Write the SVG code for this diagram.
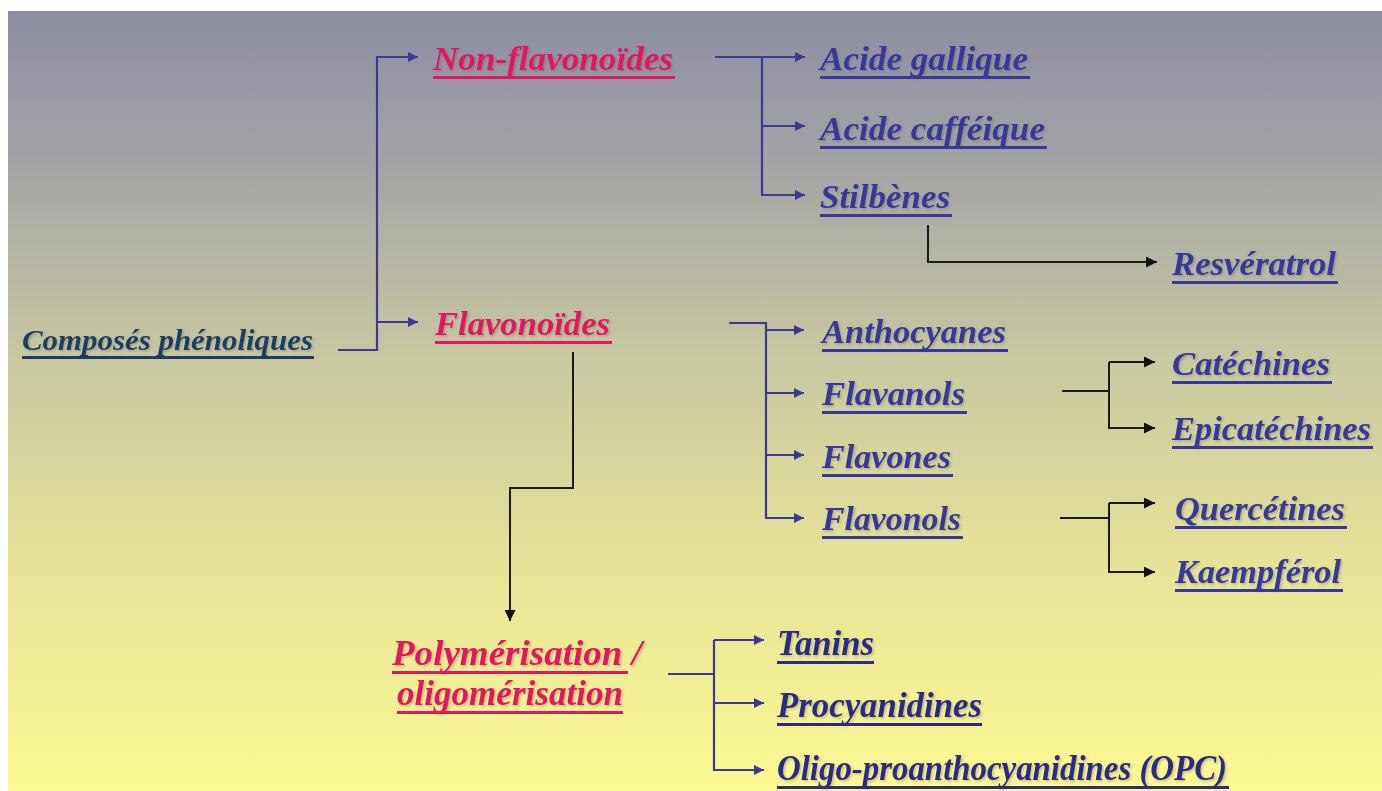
<svg xmlns="http://www.w3.org/2000/svg" width="1382" height="791" viewBox="0 0 1382 791">
<defs>
<linearGradient id="bg" x1="0" y1="0" x2="0" y2="1">
<stop offset="0" stop-color="#8d8da4"/>
<stop offset="0.18" stop-color="#a2a2a6"/>
<stop offset="0.45" stop-color="#c9c9a2"/>
<stop offset="0.72" stop-color="#e6e497"/>
<stop offset="1" stop-color="#fcf993"/>
</linearGradient>
<filter id="sh" x="-5%" y="-20%" width="110%" height="150%">
<feDropShadow dx="1.5" dy="1.5" stdDeviation="0.8" flood-color="#5a5a5a" flood-opacity="0.35"/>
</filter>
<marker id="ab" viewBox="0 0 10 10" refX="10" refY="5" markerWidth="12" markerHeight="10" markerUnits="userSpaceOnUse" orient="auto">
<path d="M0,0 L10,5 L0,10 z" fill="#3a3a92"/>
</marker>
<marker id="ak" viewBox="0 0 10 10" refX="10" refY="5" markerWidth="14" markerHeight="11" markerUnits="userSpaceOnUse" orient="auto">
<path d="M0,0 L10,5 L0,10 z" fill="#111"/>
</marker>
</defs>
<style>
text{font-family:"Liberation Serif","Times New Roman",serif;font-style:italic;font-weight:bold;filter:url(#sh)}
.r{fill:#e4175c}
.b{fill:#38389a}
.n{fill:#2c2c84}
.rn{fill:#e4175c}
.c{fill:#1f3c5e}
.ur{fill:#e4175c}
.ub{fill:#38389a}
.un{fill:#2c2c84}
.uc{fill:#1f3c5e}
.cb{fill:none;stroke:#3a3a92;stroke-width:2.2}
.ck{fill:none;stroke:#1a1a1a;stroke-width:2}
</style>
<rect x="8" y="11" width="1374" height="780" fill="url(#bg)"/>

<g id="connectors">
<path class="cb" d="M338,350 H377 V57 H418" marker-end="url(#ab)"/>
<path class="cb" d="M377,322 H418" marker-end="url(#ab)"/>
<path class="cb" d="M715,57 H762 V195 H805" marker-end="url(#ab)"/>
<path class="cb" d="M762,57 H805" marker-end="url(#ab)"/>
<path class="cb" d="M762,126 H805" marker-end="url(#ab)"/>
<path class="ck" d="M928,225 V262 H1157" marker-end="url(#ak)"/>
<path class="cb" d="M729,323 H766 V518 H804" marker-end="url(#ab)"/>
<path class="cb" d="M766,330 H804" marker-end="url(#ab)"/>
<path class="cb" d="M766,393 H804" marker-end="url(#ab)"/>
<path class="cb" d="M766,455 H804" marker-end="url(#ab)"/>
<path class="ck" d="M1062,391 H1109"/>
<path class="ck" d="M1109,362 V428 H1155" marker-end="url(#ak)"/>
<path class="ck" d="M1109,362 H1155" marker-end="url(#ak)"/>
<path class="ck" d="M1060,518 H1109"/>
<path class="ck" d="M1109,503 V572 H1155" marker-end="url(#ak)"/>
<path class="ck" d="M1109,503 H1155" marker-end="url(#ak)"/>
<path class="ck" d="M573,352 V488 H510 V621" marker-end="url(#ak)"/>
<path class="cb" d="M668,674 H714"/>
<path class="cb" d="M714,640 V770 H764" marker-end="url(#ab)"/>
<path class="cb" d="M714,640 H764" marker-end="url(#ab)"/>
<path class="cb" d="M714,703 H764" marker-end="url(#ab)"/>
</g>

<g id="n-composes"><text class="c" x="22" y="350" font-size="29" textLength="291" lengthAdjust="spacingAndGlyphs">Composés phénoliques</text><rect class="uc" x="22" y="356" width="292" height="3"/></g>
<g id="n-nonflav"><text class="r" x="433" y="70" font-size="34" textLength="240" lengthAdjust="spacingAndGlyphs">Non-flavonoïdes</text><rect class="ur" x="433" y="76" width="242" height="3"/></g>
<g id="n-flav"><text class="r" x="435" y="335" font-size="34" textLength="175" lengthAdjust="spacingAndGlyphs">Flavonoïdes</text><rect class="ur" x="435" y="341" width="177" height="3"/></g>
<g id="n-gallique"><text class="b" x="820" y="70" font-size="34" textLength="208" lengthAdjust="spacingAndGlyphs">Acide gallique</text><rect class="ub" x="820" y="76" width="210" height="3"/></g>
<g id="n-cafeique"><text class="b" x="820" y="140" font-size="34" textLength="225" lengthAdjust="spacingAndGlyphs">Acide cafféique</text><rect class="ub" x="820" y="146" width="227" height="3"/></g>
<g id="n-stilbenes"><text class="b" x="820" y="208" font-size="34" textLength="130" lengthAdjust="spacingAndGlyphs">Stilbènes</text><rect class="ub" x="820" y="214" width="132" height="3"/></g>
<g id="n-resveratrol"><text class="b" x="1172" y="275" font-size="34" textLength="164" lengthAdjust="spacingAndGlyphs">Resvératrol</text><rect class="ub" x="1172" y="281" width="166" height="3"/></g>
<g id="n-antho"><text class="b" x="822" y="343" font-size="34" textLength="184" lengthAdjust="spacingAndGlyphs">Anthocyanes</text><rect class="ub" x="822" y="349" width="186" height="3"/></g>
<g id="n-flavanols"><text class="b" x="822" y="405" font-size="34" textLength="143" lengthAdjust="spacingAndGlyphs">Flavanols</text><rect class="ub" x="822" y="411" width="145" height="3"/></g>
<g id="n-flavones"><text class="b" x="822" y="468" font-size="34" textLength="129" lengthAdjust="spacingAndGlyphs">Flavones</text><rect class="ub" x="822" y="474" width="131" height="3"/></g>
<g id="n-flavonols"><text class="b" x="822" y="530" font-size="34" textLength="139" lengthAdjust="spacingAndGlyphs">Flavonols</text><rect class="ub" x="822" y="536" width="141" height="3"/></g>
<g id="n-catechines"><text class="b" x="1172" y="375" font-size="34" textLength="158" lengthAdjust="spacingAndGlyphs">Catéchines</text><rect class="ub" x="1172" y="381" width="160" height="3"/></g>
<g id="n-epicatechines"><text class="b" x="1172" y="440" font-size="34" textLength="199" lengthAdjust="spacingAndGlyphs">Epicatéchines</text><rect class="ub" x="1172" y="446" width="201" height="3"/></g>
<g id="n-quercetines"><text class="b" x="1175" y="520" font-size="34" textLength="170" lengthAdjust="spacingAndGlyphs">Quercétines</text><rect class="ub" x="1175" y="526" width="172" height="3"/></g>
<g id="n-kaempferol"><text class="b" x="1175" y="583" font-size="34" textLength="166" lengthAdjust="spacingAndGlyphs">Kaempférol</text><rect class="ub" x="1175" y="589" width="168" height="3"/></g>
<g id="n-polym"><text class="rn" x="392" y="665" font-size="36" textLength="250" lengthAdjust="spacingAndGlyphs">Polymérisation /</text><rect class="ur" x="392" y="671" width="236" height="3"/><text class="rn" x="397" y="705" font-size="36" textLength="226" lengthAdjust="spacingAndGlyphs">oligomérisation</text><rect class="ur" x="397" y="711" width="226" height="3"/></g>
<g id="n-tanins"><text class="n" x="777" y="655" font-size="36" textLength="97" lengthAdjust="spacingAndGlyphs">Tanins</text><rect class="un" x="777" y="661" width="97" height="3"/></g>
<g id="n-procyan"><text class="n" x="777" y="717" font-size="36" textLength="205" lengthAdjust="spacingAndGlyphs">Procyanidines</text><rect class="un" x="777" y="723" width="205" height="3"/></g>
<g id="n-opc"><text class="n" x="777" y="780" font-size="36" textLength="450" lengthAdjust="spacingAndGlyphs">Oligo-proanthocyanidines (OPC)</text><rect class="un" x="777" y="786" width="452" height="3"/></g>
</svg>
